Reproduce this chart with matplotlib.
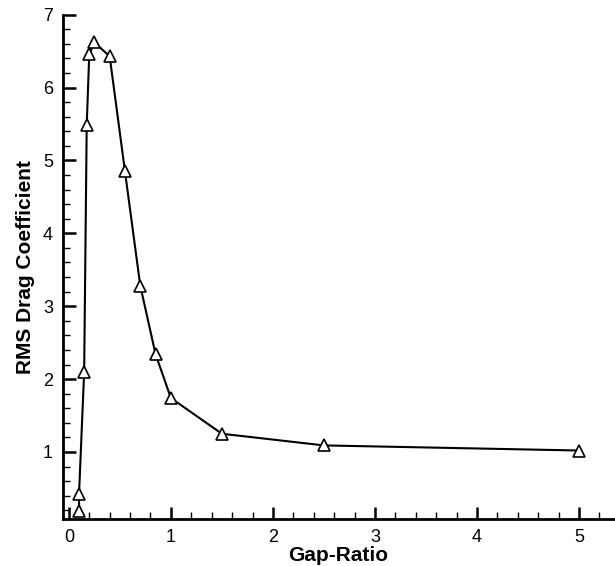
import matplotlib.pyplot as plt
from matplotlib.ticker import MultipleLocator

plt.rcParams['font.family'] = ['Liberation Sans', 'DejaVu Sans']

gap_ratio = [0.1, 0.1, 0.15, 0.175, 0.2, 0.25, 0.4, 0.55, 0.7, 0.85, 1.0, 1.5, 2.5, 5.0]
rms_cd = [0.19, 0.43, 2.1, 5.48, 6.46, 6.62, 6.43, 4.85, 3.28, 2.34, 1.74, 1.25, 1.09, 1.02]

fig = plt.figure(figsize=(6.15, 5.66), dpi=100)
ax = fig.add_axes([0.102, 0.083, 0.896, 0.891])

ax.plot(gap_ratio, rms_cd, color='black', lw=1.5, marker='^', ms=9,
        markerfacecolor='white', markeredgecolor='black', markeredgewidth=1.2)

ax.set_xlim(-0.06, 5.34)
ax.set_ylim(0.08, 7)
ax.xaxis.set_major_locator(MultipleLocator(1))
ax.xaxis.set_minor_locator(MultipleLocator(0.2))
ax.yaxis.set_major_locator(MultipleLocator(1))
ax.yaxis.set_minor_locator(MultipleLocator(0.2))

ax.spines['top'].set_visible(False)
ax.spines['right'].set_visible(False)
ax.spines['left'].set_linewidth(2)
ax.spines['bottom'].set_linewidth(2)

ax.tick_params(which='major', direction='in', length=9, width=1.8, labelsize=13, pad=7)
ax.tick_params(which='minor', direction='in', length=5, width=1)

ax.set_xlabel('Gap-Ratio', fontsize=15, fontweight='bold', labelpad=0)
ax.set_ylabel('RMS Drag Coefficient', fontsize=15, fontweight='bold', labelpad=6)

fig.savefig('out.png', dpi=100)
